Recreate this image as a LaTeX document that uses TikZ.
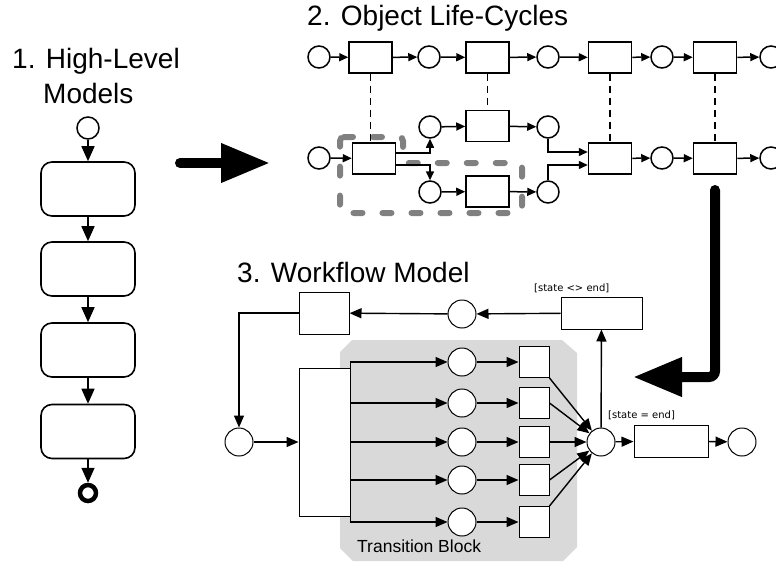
\documentclass[tikz,border=0pt]{standalone}
\usepackage{fontspec}
\setmainfont{Liberation Sans}
\newfontfamily\labelfont{DejaVu Sans}
\usetikzlibrary{arrows.meta,calc}
\definecolor{blockgray}{gray}{0.85}
\definecolor{dashgray}{gray}{0.5}
\begin{document}
\begin{tikzpicture}[x=1pt,y=-1pt,
  place/.style={circle,draw,line width=1.5pt,minimum size=22pt,inner sep=0pt,fill=white},
  lbox/.style={rectangle,draw,line width=1.5pt,minimum width=43pt,minimum height=31pt,inner sep=0pt,fill=white},
  hlbox/.style={rectangle,draw,rounded corners=11pt,line width=1.6pt,minimum width=94pt,minimum height=54pt},
  wplace/.style={circle,draw,line width=1pt,minimum size=28pt,fill=white,inner sep=0pt},
  wbox/.style={rectangle,draw,line width=1pt,fill=white,inner sep=0pt},
  arr/.style={-{Triangle[length=9pt,width=8pt]},line width=1.5pt},
  warr/.style={-{Triangle[length=12pt,width=10pt]},line width=1.4pt},
  harr/.style={-{Triangle[length=15pt,width=13pt]},line width=1.6pt},
  bigarr/.style={-{Triangle[length=49pt,width=37pt]},line width=10pt,line cap=round},
  dlink/.style={line width=1.5pt,dash pattern=on 7pt off 5pt},
  title/.style={font=\fontsize{28}{34}\selectfont,inner sep=0pt},
  cond/.style={font=\labelfont\fontsize{10}{12}\selectfont,inner sep=0pt}
]
\useasboundingbox (0,0) rectangle (776,562);

% ---------- 1. High-Level Models ----------
\node[title,anchor=base west] (t1a) at (12,68) {1. High-Level};
\node[title,anchor=base west] (t1b) at (43,103) {Models};
\node[circle,draw,line width=1.5pt,minimum size=22pt,inner sep=0pt] (hs) at (88,128) {};
\node[hlbox] (h1) at (88,189) {};
\node[hlbox] (h2) at (88,269) {};
\node[hlbox] (h3) at (88,350) {};
\node[hlbox] (h4) at (88,431.5) {};
\node[circle,draw,line width=4.5pt,minimum size=16pt,inner sep=0pt] (he) at (88,493) {};
\draw[harr] (hs) -- (h1);
\draw[harr] (h1) -- (h2);
\draw[harr] (h2) -- (h3);
\draw[harr] (h3) -- (h4);
\draw[harr] (h4) -- (he);

% big arrow 1
\coordinate (ba1s) at (180,163);
\coordinate (ba1e) at (270,163);
\draw[bigarr] (ba1s) -- (ba1e);

% ---------- 2. Object Life-Cycles ----------
\node[title,anchor=base west] (t2) at (307,25) {2. Object Life-Cycles};

% gray dashed region
\draw[dashgray,line width=6pt,line cap=round,dash pattern=on 9pt off 20pt,rounded corners=4pt]
  (340,137) -- (403,137) -- (403,163) -- (522,163) -- (522,213) -- (340,213) -- cycle;

% top row
\node[place] (c1) at (319,57) {};
\node[lbox] (tb1) at (370.5,57.5) {};
\node[place] (c2) at (429,57) {};
\node[lbox] (tb2) at (487.5,57.5) {};
\node[place] (c3) at (548,57) {};
\node[lbox] (tb3) at (610,57.5) {};
\node[place] (c4) at (662,57) {};
\node[lbox] (tb4) at (715,57.5) {};
\node[place] (c5) at (771,57) {};
\draw[arr] (c1) -- (tb1);
\draw[arr] (tb1) -- (c2);
\draw[arr] (c2) -- (tb2);
\draw[arr] (tb2) -- (c3);
\draw[arr] (c3) -- (tb3);
\draw[arr] (tb3) -- (c4);
\draw[arr] (c4) -- (tb4);
\draw[arr] (tb4) -- (c5);

% middle branch
\node[place] (m1) at (430,127) {};
\node[lbox] (mb) at (487.5,126) {};
\node[place] (m2) at (548,127) {};
% lower row
\node[place] (l0) at (319,158) {};
\node[lbox] (ab) at (374,158.5) {};
\node[place] (l1) at (430,192) {};
\node[lbox] (lb) at (487.5,191.5) {};
\node[place] (l2) at (548,192) {};
\node[lbox] (bb) at (610,158.5) {};
\node[place] (l3) at (662,158) {};
\node[lbox] (cb) at (715,158.5) {};
\node[place] (l4) at (771,158) {};

\draw[arr] (l0) -- (ab);
\draw[arr] (ab.east |- 0,153) -| (m1.south);
\draw[arr] (ab.east |- 0,165) -| (l1.north);
\draw[arr] (m1) -- (mb);
\draw[arr] (mb) -- (m2);
\draw[arr] (l1) -- (lb);
\draw[arr] (lb) -- (l2);
\draw[arr] (m2.south) |- (bb.west |- 0,152);
\draw[arr] (l2.north) |- (bb.west |- 0,165);
\draw[arr] (bb) -- (l3);
\draw[arr] (l3) -- (cb);
\draw[arr] (cb) -- (l4);

% dashed synchronisation links
\draw[dlink] (tb1.south) -- (tb1.south |- ab.north);
\draw[dlink] (tb2.south) -- (mb.north);
\draw[dlink] (tb3.south) -- (bb.north);
\draw[dlink] (tb4.south) -- (cb.north);

% big arrow 2
\coordinate (ba2s) at (715,190);
\coordinate (ba2c) at (715,377);
\coordinate (ba2e) at (633,377);
\draw[bigarr,rounded corners=6pt] (ba2s) -- (ba2c) -- (ba2e);

% ---------- 3. Workflow Model ----------
\node[title,anchor=base west] (t3) at (237,282) {3. Workflow Model};

% transition block background
\fill[blockgray] (340,352) -- (352,340) -- (562,340) -- (577,353) -- (577,547) -- (563,561) -- (353,561) -- (340,548) -- cycle;
\node[font=\fontsize{17.5}{20}\selectfont,anchor=base west,inner sep=0pt] (tbl) at (357,552) {Transition Block};

\node[wbox,minimum width=50pt,minimum height=42pt] (loopb) at (324,313) {};
\node[wplace] (loopc) at (462,314) {};
\node[wbox,minimum width=81pt,minimum height=32pt] (neb) at (601.5,313) {};
\node[cond,anchor=base west] (nel) at (534,291) {[state <> end]};
\node[wplace] (lc) at (239,442) {};
\node[wbox,minimum width=51pt,minimum height=148pt] (big) at (324.5,442) {};

\foreach \i/\y in {1/362,2/403,3/442,4/480,5/522}{
  \node[wplace] (rc\i) at (462,\y) {};
  \node[wbox,minimum width=30pt,minimum height=31pt] (sb\i) at (534,\y) {};
  \draw[warr] (rc\i) -- (sb\i);
}
\node[wplace] (cc) at (601,442) {};
\node[wbox,minimum width=74pt,minimum height=32pt] (eqb) at (671,441) {};
\node[cond,anchor=base west] (eql) at (608,418) {[state = end]};
\node[wplace] (ec) at (742,442) {};

\draw[warr] (neb) -- (loopc);
\draw[warr] (loopc) -- (loopb);
\draw[warr] (loopb.west) -| (lc.north);
\draw[warr] (lc) -- (big);
\draw[warr] (big.north east) |- (rc1.west);
\draw[warr] (big.east |- rc2) -- (rc2);
\draw[warr] (big.east |- rc3) -- (rc3);
\draw[warr] (big.east |- rc4) -- (rc4);
\draw[warr] (big.south east) |- (rc5.west);
\draw[warr] (sb1.south east) -- (cc);
\draw[warr] (sb2.east) -- (cc);
\draw[warr] (sb3.east) -- (cc);
\draw[warr] (sb4.east) -- (cc);
\draw[warr] (sb5.north east) -- (cc);
\draw[warr] (cc) -- (neb);
\draw[warr] (cc) -- (eqb);
\draw[warr] (eqb) -- (ec);
\end{tikzpicture}
\end{document}
